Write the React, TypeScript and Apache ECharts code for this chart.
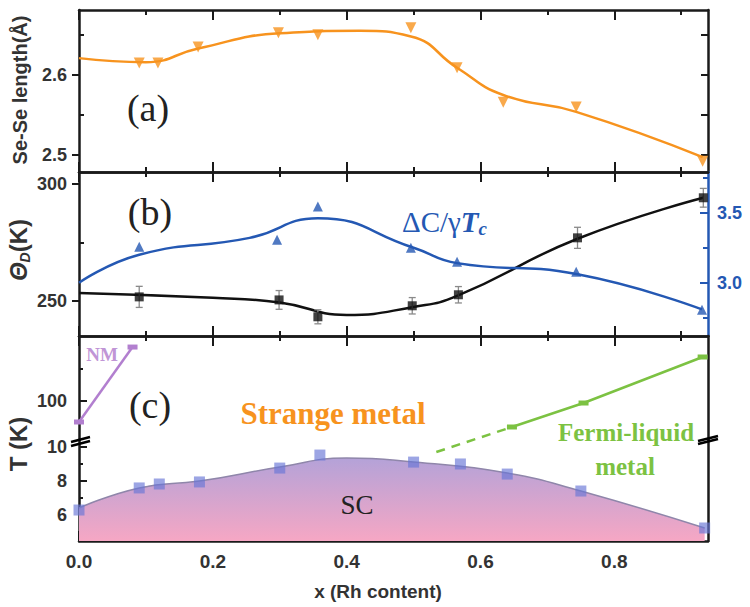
import React, { useEffect, useRef } from 'react';
import * as echarts from 'echarts';

// ---------- data ----------
const X_MAX = 0.94;
const X_MAJOR = [0, 0.2, 0.4, 0.6, 0.8];
const X_MINOR = [0.1, 0.3, 0.5, 0.7, 0.9];

// (a) Se-Se length
const seX = [0.09, 0.118, 0.178, 0.298, 0.357, 0.496, 0.565, 0.634, 0.743, 0.932];
const seLen = [2.615, 2.615, 2.635, 2.6525, 2.65, 2.659, 2.609, 2.566, 2.56, 2.4925];
const seFitX = [0, 0.1, 0.178, 0.3, 0.42, 0.496, 0.565, 0.634, 0.743, 0.932];
const seFitY = [2.621, 2.616, 2.633, 2.652, 2.655, 2.648, 2.609, 2.575, 2.554, 2.4975];

// (b) Debye temperature
const thetaX = [0.09, 0.299, 0.357, 0.498, 0.567, 0.745, 0.933];
const thetaD = [251.7, 250.4, 243.2, 247.9, 252.6, 276.9, 294.0];
const thetaErr = [4.5, 4, 3, 3.5, 3.5, 4.5, 4];
const thetaFitX = [0, 0.2, 0.3, 0.4, 0.5, 0.565, 0.745, 0.933];
const thetaFitY = [253.4, 251.3, 249.3, 244, 247.4, 252.1, 276.5, 294];

// (b) specific heat jump
const dcX = [0.09, 0.296, 0.357, 0.496, 0.565, 0.743, 0.931];
const dcVal = [3.257, 3.307, 3.543, 3.25, 3.15, 3.079, 2.807];
const dcFitX = [0, 0.09, 0.255, 0.357, 0.5, 0.565, 0.745, 0.931];
const dcFitY = [3.0, 3.2, 3.32, 3.46, 3.25, 3.14, 3.06, 2.81];

// (c) phase diagram
const nmX = [0, 0.08];
const nmT = [67.7, 183];
const flX = [0.647, 0.754, 0.932];
const flT = [60, 96.9, 167.7];
const flDashX = [0.534, 0.647];
const flDashT = [21.5, 60];
const scX = [0, 0.09, 0.12, 0.18, 0.3, 0.36, 0.5, 0.57, 0.64, 0.75, 0.935];
const scTc = [6.31, 7.6, 7.83, 7.95, 8.76, 9.52, 9.11, 9.0, 8.41, 7.42, 5.26];
const scFitX = [0, 0.09, 0.18, 0.3, 0.4, 0.5, 0.64, 0.75, 0.935];
const scFitY = [6.43, 7.6, 8.0, 8.82, 9.35, 9.11, 8.47, 7.42, 5.26];

// tick labels
const A_MAJOR = [2.5, 2.6];
const A_MINOR = [2.55, 2.65];
const B_MAJOR = [250, 300];
const B_MINOR = [275];
const BR_MAJOR = [3.0, 3.5];
const BR_MINOR = [2.75, 3.25, 3.75];
const CU_MAJOR = [100];
const CU_MINOR = [150];
const CL_MAJOR = [6, 8, 10];
const CL_MINOR = [5, 7, 9];

// ---------- style ----------
const SANS = '"Liberation Sans", Arial, sans-serif';
const SERIF = '"Liberation Serif", "Times New Roman", serif';
const AX = '#1a1a1a';
const LBL = '#333';
const BLUE = '#2458b3';
const ORANGE = '#f7931e';
const GREEN = '#7cc242';
const PURPLE = '#b27fcf';
const SMOOTH = 0.5;

const zip = (xs: number[], ys: number[]) => xs.map((x, i) => [x, ys[i]]);

function buildOption() {
  const L = 79, W = 629;
  const grid = [
    { left: L, top: 10, width: W, height: 162 },
    { left: L, top: 172, width: W, height: 164 },
    { left: L, top: 336, width: W, height: 104 },
    { left: L, top: 440, width: W, height: 101 },
  ];
  const xAxis: any[] = [];
  const yAxis: any[] = [];

  function addX(g: number, position: string, label: boolean) {
    xAxis.push({
      type: 'value', gridIndex: g, position, min: 0, max: X_MAX,
      axisLine: { show: true, onZero: false, lineStyle: { color: AX, width: 2.5 } },
      axisTick: { show: true, inside: true, length: 10, customValues: X_MAJOR, lineStyle: { color: AX, width: 2 } },
      axisLabel: {
        show: label, customValues: X_MAJOR, formatter: (v: number) => v.toFixed(1), margin: 11,
        color: LBL, fontFamily: SANS, fontWeight: 'bold', fontSize: 19,
      },
      splitLine: { show: false },
    });
    const main = xAxis.length - 1;
    xAxis.push({
      type: 'value', gridIndex: g, position, min: 0, max: X_MAX,
      axisLine: { show: false, onZero: false },
      axisTick: { show: true, inside: true, length: 5, customValues: X_MINOR, lineStyle: { color: AX, width: 2 } },
      axisLabel: { show: false }, splitLine: { show: false },
    });
    return main;
  }

  function addY(g: number, position: string, min: number, max: number, major: number[], minor: number[], o: any) {
    const color = o.color || AX;
    yAxis.push({
      type: 'value', gridIndex: g, position, min, max,
      axisLine: { show: true, onZero: false, lineStyle: { color, width: 2.5 } },
      axisTick: { show: major.length > 0, inside: !o.out, length: o.majorLen ?? 7, customValues: major.length ? major : undefined, lineStyle: { color, width: 2 } },
      axisLabel: {
        show: !!o.label, customValues: major.length ? major : undefined, formatter: o.fmt, margin: o.margin ?? 12,
        color: o.labelColor || LBL, fontFamily: SANS, fontWeight: 'bold', fontSize: 18,
      },
      splitLine: { show: false },
    });
    const main = yAxis.length - 1;
    if (minor.length) {
      yAxis.push({
        type: 'value', gridIndex: g, position, min, max,
        axisLine: { show: false, onZero: false },
        axisTick: { show: true, inside: true, length: o.minorLen ?? 5, customValues: minor, lineStyle: { color, width: 2 } },
        axisLabel: { show: false }, splitLine: { show: false },
      });
    }
    return main;
  }

  // x axes
  const xa = addX(0, 'top', false);
  addX(0, 'bottom', false);
  const xb = addX(1, 'top', false);
  addX(1, 'bottom', false);
  const xcu = addX(2, 'top', false);
  const xcl = addX(3, 'bottom', true);

  // y axes
  const f1 = (v: number) => v.toFixed(1);
  const f0 = (v: number) => String(Math.round(v));
  const ya = addY(0, 'left', 2.479, 2.681, A_MAJOR, A_MINOR, { out: true, label: true, fmt: f1 });
  addY(0, 'right', 2.479, 2.681, [...A_MAJOR, ...A_MINOR], [], { majorLen: 7 });
  const ybl = addY(1, 'left', 235, 305, B_MAJOR, B_MINOR, { out: true, label: true, fmt: f0 });
  const ybr = addY(1, 'right', 2.62, 3.79, BR_MAJOR, BR_MINOR, { color: BLUE, labelColor: BLUE, label: true, fmt: f1, majorLen: 8, margin: 9 });
  const ycu = addY(2, 'left', 40, 200, CU_MAJOR, CU_MINOR, { label: true, fmt: f0, majorLen: 8, minorLen: 4 });
  addY(2, 'right', 40, 200, [], [], {});
  const ycl = addY(3, 'left', 4.5, 10.4, CL_MAJOR, CL_MINOR, { label: true, fmt: f0, majorLen: 8, minorLen: 4 });
  addY(3, 'right', 4.5, 10.4, [], [], {});

  const errRender = (params: any, api: any) => {
    const x = api.value(0), y = api.value(1), e = api.value(2);
    const p1 = api.coord([x, y + e]);
    const p2 = api.coord([x, y - e]);
    const st = { stroke: '#8a8a8a', lineWidth: 1.3 };
    return {
      type: 'group', children: [
        { type: 'line', shape: { x1: p1[0], y1: p1[1], x2: p2[0], y2: p2[1] }, style: st },
        { type: 'line', shape: { x1: p1[0] - 3.5, y1: p1[1], x2: p1[0] + 3.5, y2: p1[1] }, style: st },
        { type: 'line', shape: { x1: p2[0] - 3.5, y1: p2[1], x2: p2[0] + 3.5, y2: p2[1] }, style: st },
      ],
    };
  };

  const series: any[] = [
    // (a)
    { type: 'line', xAxisIndex: xa, yAxisIndex: ya, data: zip(seFitX, seFitY), smooth: SMOOTH, symbol: 'none', lineStyle: { color: ORANGE, width: 2.5 }, z: 2 },
    { type: 'scatter', xAxisIndex: xa, yAxisIndex: ya, data: zip(seX, seLen), symbol: 'triangle', symbolRotate: 180, symbolSize: 11, itemStyle: { color: ORANGE }, z: 3 },
    // (b) theta
    { type: 'line', xAxisIndex: xb, yAxisIndex: ybl, data: zip(thetaFitX, thetaFitY), smooth: SMOOTH, symbol: 'none', lineStyle: { color: '#111', width: 2.5 }, z: 2 },
    { type: 'custom', xAxisIndex: xb, yAxisIndex: ybl, data: thetaX.map((x, i) => [x, thetaD[i], thetaErr[i]]), encode: { x: 0, y: 1 }, renderItem: errRender, z: 3 },
    { type: 'scatter', xAxisIndex: xb, yAxisIndex: ybl, data: zip(thetaX, thetaD), symbol: 'rect', symbolSize: 9, itemStyle: { color: '#111' }, z: 4 },
    // (b) dC
    { type: 'line', xAxisIndex: xb, yAxisIndex: ybr, data: zip(dcFitX, dcFitY), smooth: SMOOTH, symbol: 'none', lineStyle: { color: BLUE, width: 2.5 }, z: 2 },
    { type: 'scatter', xAxisIndex: xb, yAxisIndex: ybr, data: zip(dcX, dcVal), symbol: 'triangle', symbolSize: 10, itemStyle: { color: BLUE }, z: 4 },
    // (c) upper
    { type: 'line', xAxisIndex: xcu, yAxisIndex: ycu, data: zip(nmX, nmT), symbol: 'rect', symbolSize: [10, 5], lineStyle: { color: PURPLE, width: 2.5 }, itemStyle: { color: PURPLE }, z: 3, clip: false },
    { type: 'line', xAxisIndex: xcu, yAxisIndex: ycu, data: zip(flDashX, flDashT), symbol: 'none', lineStyle: { color: GREEN, width: 2.5, type: [9, 7] }, z: 3, clip: false },
    { type: 'line', xAxisIndex: xcu, yAxisIndex: ycu, data: zip(flX, flT), symbol: 'rect', symbolSize: [10, 5], lineStyle: { color: GREEN, width: 2.5 }, itemStyle: { color: GREEN }, z: 3, clip: false },
    // (c) lower: SC dome
    {
      type: 'line', xAxisIndex: xcl, yAxisIndex: ycl, data: zip(scFitX, scFitY), smooth: SMOOTH, symbol: 'none',
      lineStyle: { color: '#8f86aa', width: 1.5 },
      areaStyle: {
        origin: 'start', opacity: 1,
        color: new echarts.graphic.LinearGradient(0, 0, 0, 1, [
          { offset: 0, color: '#b4a2d8' },
          { offset: 1, color: '#f6a7c4' },
        ]),
      },
      z: 1,
    },
    { type: 'scatter', xAxisIndex: xcl, yAxisIndex: ycl, data: zip(scX, scTc), symbol: 'rect', symbolSize: 11, itemStyle: { color: 'rgba(104,118,214,0.82)' }, z: 3, clip: false },
  ];

  const t = (x: number, y: number, text: string, font: string, fill: string, extra: any = {}) => ({
    type: 'text', x, y, z: 100, ...extra,
    style: { text, font, fill, align: 'center', verticalAlign: 'middle', ...(extra.style || {}) },
  });

  const graphic: any[] = [
    t(148, 108, '(a)', `38px ${SERIF}`, '#222'),
    t(150, 212, '(b)', `38px ${SERIF}`, '#222'),
    t(150, 405, '(c)', `38px ${SERIF}`, '#222'),
    t(333, 413, 'Strange metal', `bold 31px ${SERIF}`, ORANGE),
    t(357, 505, 'SC', `27px ${SERIF}`, '#222'),
    t(626, 432, 'Fermi-liquid', `bold 25px ${SERIF}`, GREEN),
    t(625, 466, 'metal', `bold 25px ${SERIF}`, GREEN),
    t(102, 354, 'NM', `bold 19px ${SERIF}`, '#c095d6'),
    t(378, 591, 'x (Rh content)', `bold 19px ${SANS}`, LBL),
    {
      type: 'text', x: 402, y: 222, z: 100,
      style: {
        text: '{n|ΔC/γ}{i|T}{s|c}', align: 'left', verticalAlign: 'middle', fill: BLUE,
        rich: {
          n: { fontFamily: SERIF, fontSize: 29, color: BLUE, lineHeight: 32, verticalAlign: 'middle' },
          i: { fontFamily: SERIF, fontSize: 29, fontStyle: 'italic', fontWeight: 'bold', color: BLUE, lineHeight: 32, verticalAlign: 'middle' },
          s: { fontFamily: SERIF, fontSize: 19, fontStyle: 'italic', fontWeight: 'bold', color: BLUE, lineHeight: 18, verticalAlign: 'bottom' },
        },
      },
    },
    t(20, 90, 'Se-Se length(Å)', `bold 20px ${SANS}`, LBL, { rotation: Math.PI / 2 }),
    t(18, 444, 'T (K)', `bold 24px ${SANS}`, LBL, { rotation: Math.PI / 2 }),
    {
      type: 'text', x: 18, y: 250, z: 100, rotation: Math.PI / 2,
      style: {
        text: '{t|Θ}{d|D}{k|(K)}', align: 'center', verticalAlign: 'middle', fill: LBL,
        rich: {
          t: { fontFamily: SANS, fontSize: 24, fontStyle: 'italic', fontWeight: 'bold', color: LBL, lineHeight: 28 },
          d: { fontFamily: SANS, fontSize: 14, fontStyle: 'italic', fontWeight: 'bold', color: LBL, lineHeight: 14, verticalAlign: 'bottom' },
          k: { fontFamily: SANS, fontSize: 24, fontWeight: 'bold', color: LBL, lineHeight: 28 },
        },
      },
    },
    // axis break marks
    { type: 'line', z: 100, shape: { x1: 71, y1: 442, x2: 90, y2: 437 }, style: { stroke: '#000', lineWidth: 2.5 } },
    { type: 'line', z: 100, shape: { x1: 71, y1: 446, x2: 90, y2: 441 }, style: { stroke: '#000', lineWidth: 2.5 } },
    { type: 'line', z: 100, shape: { x1: 698, y1: 441, x2: 718, y2: 436 }, style: { stroke: '#000', lineWidth: 2.5 } },
    { type: 'line', z: 100, shape: { x1: 698, y1: 444, x2: 718, y2: 439 }, style: { stroke: '#000', lineWidth: 2.5 } },
  ];

  return {
    animation: false,
    backgroundColor: '#fff',
    grid, xAxis, yAxis, series, graphic,
  };
}

export default function App() {
  const ref = useRef<HTMLDivElement>(null);
  useEffect(() => {
    const chart = echarts.init(ref.current as HTMLDivElement, null, { renderer: 'svg' });
    chart.setOption(buildOption() as any);
    return () => chart.dispose();
  }, []);
  return (
    <div
      ref={ref}
      style={{ position: 'fixed', left: 0, top: 0, width: 750, height: 607, background: '#fff' }}
    />
  );
}
